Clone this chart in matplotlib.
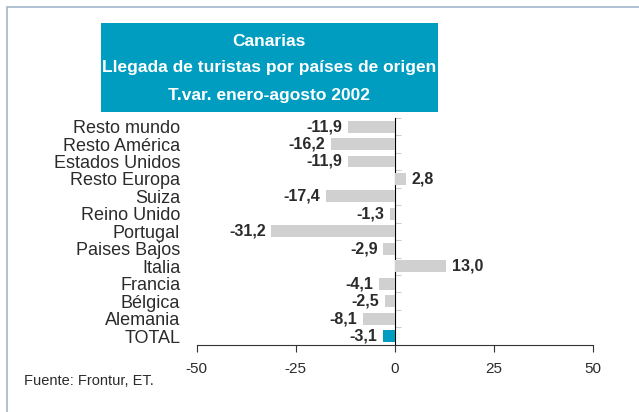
import matplotlib.pyplot as plt
from matplotlib.patches import Rectangle

paises = ['Resto mundo', 'Resto América', 'Estados Unidos', 'Resto Europa', 'Suiza',
          'Reino Unido', 'Portugal', 'Paises Bajos', 'Italia', 'Francia', 'Bélgica',
          'Alemania', 'TOTAL']
tvar = [-11.9, -16.2, -11.9, 2.8, -17.4, -1.3, -31.2, -2.9, 13.0, -4.1, -2.5, -8.1, -3.1]
etiquetas = ['-11,9', '-16,2', '-11,9', '2,8', '-17,4', '-1,3', '-31,2', '-2,9', '13,0',
             '-4,1', '-2,5', '-8,1', '-3,1']
xticks = [-50, -25, 0, 25, 50]

plt.rcParams['font.family'] = ['Liberation Sans', 'DejaVu Sans']
txt = '#2b2b2b'
azul = '#009dc0'

fig = plt.figure(figsize=(6.39, 4.12), dpi=100)
ax = fig.add_axes([0.308, 0.163, 0.62, 0.551])

pos = list(range(len(paises)))
colores = ['#d0d0d0'] * (len(paises) - 1) + [azul]
ax.barh(pos, tvar, height=0.68, color=colores, zorder=2)
ax.set_ylim(len(paises) - 0.5, -0.5)
ax.set_xlim(-50, 50)

for p, v, e in zip(pos, tvar, etiquetas):
    if v < 0:
        ax.annotate(e, (v, p), xytext=(-4, 0), textcoords='offset points',
                    ha='right', va='center', fontsize=11.5, fontweight='bold', color=txt)
    else:
        ax.annotate(e, (v, p), xytext=(4, 0), textcoords='offset points',
                    ha='left', va='center', fontsize=11.5, fontweight='bold', color=txt)

ax.set_yticks(pos)
ax.set_yticklabels(paises, fontsize=13, color=txt)
ax.tick_params(axis='y', length=0, pad=12)
ax.set_xticks(xticks)
ax.set_xticklabels([str(t) for t in xticks], fontsize=11, color=txt)
ax.tick_params(axis='x', direction='out', length=5, pad=7, width=0.8, color='#333333')
for s in ['top', 'right', 'left']:
    ax.spines[s].set_visible(False)
ax.spines['bottom'].set_color('#333333')
ax.spines['bottom'].set_linewidth(0.8)

# eje vertical en el cero
eje = ax.secondary_yaxis(0.5)
eje.set_yticks([p - 0.5 for p in pos])
eje.set_yticklabels([])
eje.tick_params(length=4, color='#cfcfcf', width=0.8)
eje.spines['left'].set_color('#cfcfcf')

# recuadro del titulo
fig.patches.append(Rectangle((0.158, 0.728), 0.527, 0.216, transform=fig.transFigure,
                             facecolor=azul, edgecolor='none'))
fig.text(0.4215, 0.9, 'Canarias', ha='center', va='center', color='white',
         fontsize=12.5, fontweight='bold')
fig.text(0.4215, 0.835, 'Llegada de turistas por países de origen', ha='center',
         va='center', color='white', fontsize=12.5, fontweight='bold')
fig.text(0.4215, 0.769, 'T.var. enero-agosto 2002', ha='center', va='center',
         color='white', fontsize=12.5, fontweight='bold')

# marco
fig.patches.append(Rectangle((0.011, -0.2), 1.2, 1.183, transform=fig.transFigure,
                             facecolor='none', edgecolor='#a3b6cc', linewidth=1.2))

fig.text(0.038, 0.065, 'Fuente: Frontur, ET.', fontsize=10.5, color=txt)

fig.savefig('out.png', dpi=100)
